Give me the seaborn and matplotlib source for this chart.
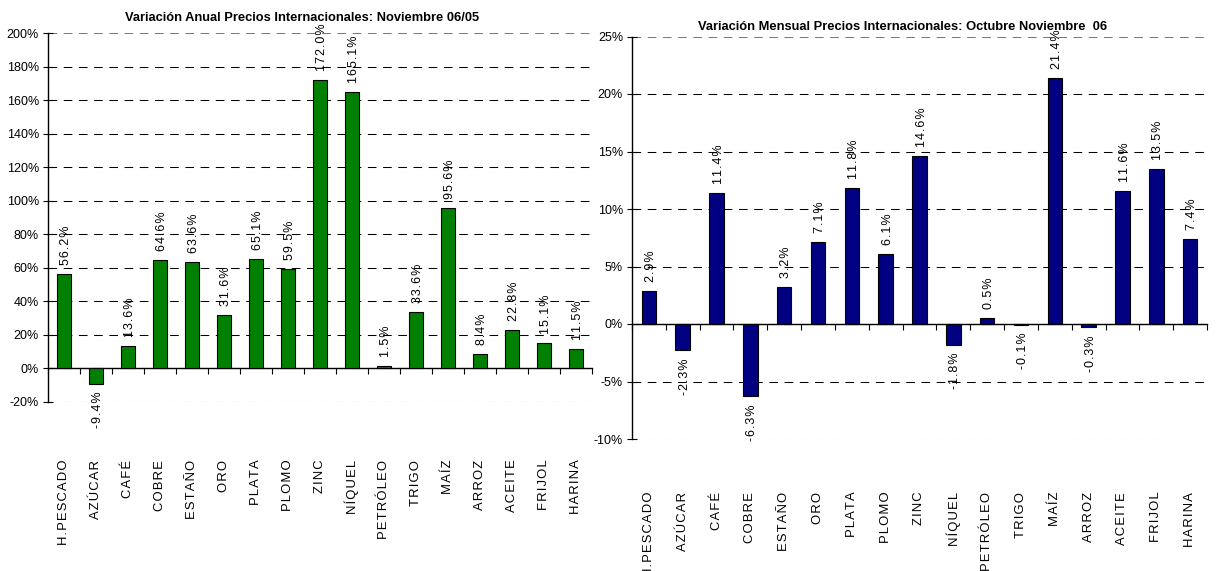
import matplotlib
matplotlib.use("Agg")
import matplotlib.pyplot as plt
import seaborn as sns
import pandas as pd

# ---- data -------------------------------------------------------------
productos = ["H.PESCADO", "AZÚCAR", "CAFÉ", "COBRE", "ESTAÑO", "ORO", "PLATA",
             "PLOMO", "ZINC", "NÍQUEL", "PETRÓLEO", "TRIGO", "MAÍZ", "ARROZ",
             "ACEITE", "FRIJOL", "HARINA"]
var_anual = [56.2, -9.4, 13.6, 64.6, 63.6, 31.6, 65.1, 59.5, 172.0, 165.1,
             1.5, 33.6, 95.6, 8.4, 22.8, 15.1, 11.5]
var_mensual = [2.9, -2.3, 11.4, -6.3, 3.2, 7.1, 11.8, 6.1, 14.6, -1.8,
               0.5, -0.1, 21.4, -0.3, 11.6, 13.5, 7.4]
titulo_anual = "Variación Anual Precios Internacionales: Noviembre 06/05"
titulo_mensual = "Variación Mensual Precios Internacionales: Octubre Noviembre  06"

# ---- style ------------------------------------------------------------
sns.set_theme(style="white")
TEXTO = ["Liberation Sans", "DejaVu Sans"]
ESTRECHA = ["Liberation Sans Narrow", "Liberation Sans", "DejaVu Sans"]
plt.rcParams["font.family"] = TEXTO
plt.rcParams["axes.facecolor"] = "white"
plt.rcParams["text.color"] = "black"
plt.rcParams["xtick.color"] = "black"
plt.rcParams["ytick.color"] = "black"
plt.rcParams["xtick.labelcolor"] = "black"
plt.rcParams["ytick.labelcolor"] = "black"

W, H, DPI = 1221, 571, 100
fig = plt.figure(figsize=(W / DPI, H / DPI), dpi=DPI)
fig.patch.set_facecolor("white")

HAIR = "\u200a"


def espaciar(s):
    return HAIR.join(s)


def rect(x0, x1, ytop, ybot):
    return [x0 / W, 1 - ybot / H, (x1 - x0) / W, (ybot - ytop) / H]


def panel(ax, valores, color, ymin, ymax, paso, pad_cat, gris_inf):
    df = pd.DataFrame({"producto": productos, "valor": valores})
    sns.barplot(data=df, x="producto", y="valor", color=color, saturation=1,
                width=0.43, edgecolor="black", linewidth=0.8, ax=ax, zorder=3)
    ax.set_xlim(-0.5, len(productos) - 0.5)
    ax.set_ylim(ymin, ymax)
    ax.set_xlabel("")
    ax.set_ylabel("")

    ticks = list(range(ymin, ymax + 1, paso))
    ax.set_yticks(ticks)
    ax.set_yticklabels([f"{t}%" for t in ticks])
    for lab in ax.get_yticklabels():
        lab.set_family(ESTRECHA)
        lab.set_fontsize(9)
        lab.set_color("black")
    ax.tick_params(axis="y", direction="inout", length=7, width=0.8,
                   color="black", pad=3, left=True)

    ax.yaxis.grid(True, color="black", linewidth=0.75,
                  linestyle=(0, (8.3, 6.3)), zorder=0)
    ax.set_axisbelow(True)
    lineas = ax.get_ygridlines()
    lineas[-1].set_color("#7a7a7a")
    if gris_inf:
        lineas[0].set_color("#7a7a7a")

    for lado in ("top", "right", "bottom"):
        ax.spines[lado].set_visible(False)
    ax.spines["left"].set_color("black")
    ax.spines["left"].set_linewidth(1.0)

    ax.set_xticks(range(len(productos)))
    ax.set_xticklabels([espaciar(p) for p in productos], rotation=90,
                       fontsize=9.4, va="top", ha="center", color="black")
    ax.tick_params(axis="x", length=0, pad=pad_cat)

    # zero line with category separators
    frac = (0 - ymin) / (ymax - ymin)
    eje0 = ax.secondary_xaxis(frac)
    eje0.set_xticks([i - 0.5 for i in range(len(productos) + 1)])
    eje0.tick_params(direction="out", length=4, width=0.8, color="black",
                     labelbottom=False)
    eje0.spines["bottom"].set_color("black")
    eje0.spines["bottom"].set_linewidth(1.0)

    anots = []
    for i, v in enumerate(valores):
        txt = espaciar(f"{v:.1f}%")
        if v >= 0:
            a = ax.annotate(txt, xy=(i, v), xytext=(1.5, 6.5),
                            textcoords="offset points", rotation=90,
                            ha="center", va="bottom", fontsize=9,
                            color="black", zorder=5)
        else:
            a = ax.annotate(txt, xy=(i, v), xytext=(1.5, -5.5),
                            textcoords="offset points", rotation=90,
                            ha="center", va="top", fontsize=9,
                            color="black", zorder=5)
        anots.append((a, v))
    return anots


ax1 = fig.add_axes(rect(48, 592, 33, 402))
ax2 = fig.add_axes(rect(632, 1207, 36.5, 439))

an1 = panel(ax1, var_anual, "#008000", -20, 200, 20, 41.5, False)
an2 = panel(ax2, var_mensual, "#000080", -10, 25, 5, 38, True)

fig.text(302 / W, 1 - 18 / H, titulo_anual, ha="center", va="center",
         fontsize=9.3, fontweight="bold", family=ESTRECHA, color="black")
fig.text(903 / W, 1 - 27 / H, titulo_mensual, ha="center", va="center",
         fontsize=9.3, fontweight="bold", family=ESTRECHA, color="black")

# keep value labels inside the plotting area
fig.canvas.draw()
r = fig.canvas.get_renderer()
for ax, anots in ((ax1, an1), (ax2, an2)):
    tope = ax.get_window_extent(r).y1
    for a, v in anots:
        bb = a.get_window_extent(r)
        exceso = bb.y1 - tope
        if exceso > 10:
            dx, dy = a.xyann
            dy -= (exceso + 10) * 72 / DPI
            barra = ax.transData.transform((0, v))[1]
            if bb.y0 - exceso - 10 < barra:
                dx += 10
            a.xyann = (dx, dy)

fig.savefig("out.png", dpi=DPI, facecolor="white")
